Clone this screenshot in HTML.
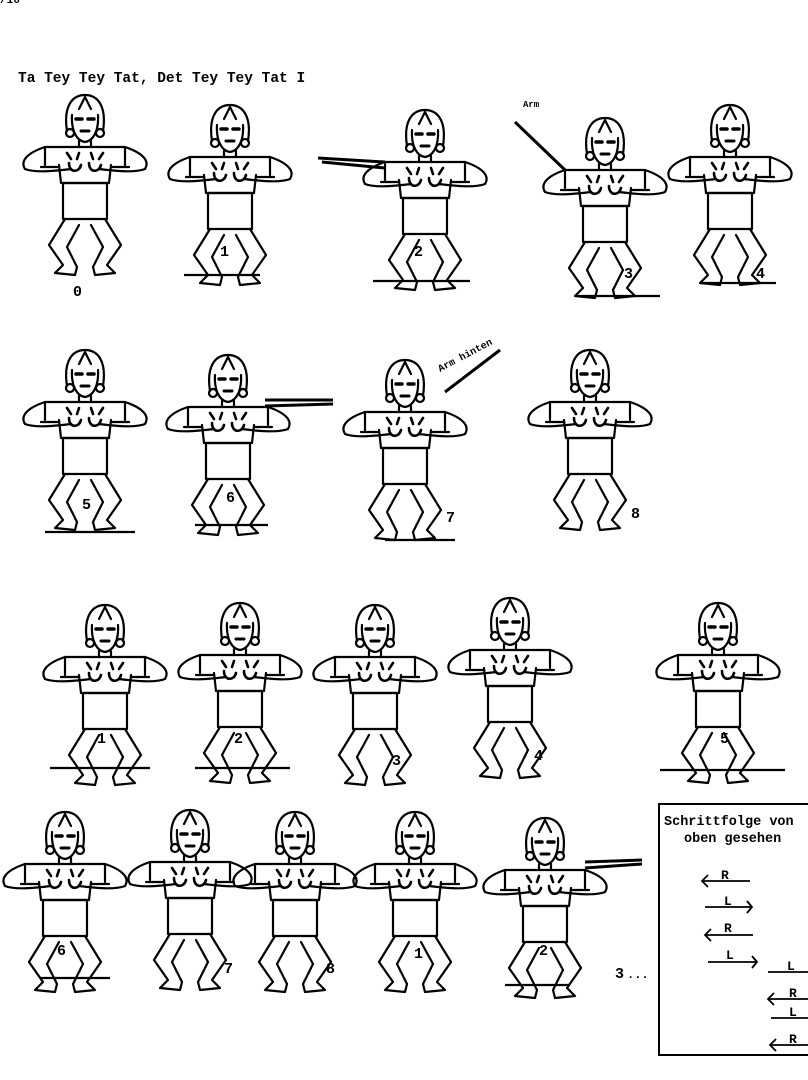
<!DOCTYPE html>
<html><head><meta charset="utf-8"><style>
html,body{margin:0;padding:0;background:#fff;width:808px;height:1080px;overflow:hidden}
svg{display:block}
text{font-family:"Liberation Mono",monospace;font-weight:bold;fill:#000}
</style></head><body>
<svg width="808" height="1080" viewBox="0 0 808 1080" xmlns="http://www.w3.org/2000/svg">
<defs>
<g id="fig" fill="none" stroke="#000" stroke-width="2.2" stroke-linejoin="round" stroke-linecap="round">
  <!-- hair -->
  <path d="M-18,36 C-22,10 -12,0 0,0 C12,0 22,10 18,36"/>
  <path d="M0,2 L-6,14 M0,2 L6,14"/>
  <!-- face -->
  <path d="M-13,20 C-14,36 -8,46 0,47 C8,46 14,36 13,20"/>
  <path d="M-9,24 h6 M3,24 h6" stroke-width="3.5"/>
  <path d="M-4,36 h8" stroke-width="3"/>
  <circle cx="-15" cy="38" r="4"/><circle cx="15" cy="38" r="4"/>
  <path d="M-6,46 v6 M6,46 v6"/>
  <!-- shirt -->
  <path d="M-40,70 L-40,52 L40,52 L40,70"/>
  <path d="M-26,70 L-24,88 L24,88 L26,70"/>
  <!-- arms -->
  <path d="M-40,52 C-58,58 -65,66 -60,74 C-50,78 -30,76 -14,74"/>
  <path d="M40,52 C58,58 65,66 60,74 C50,78 30,76 14,74"/>
  <path d="M-44,72 C-40,72 -30,72 -26,72 M44,72 C40,72 30,72 26,72"/>
  <!-- hands -->
  <path d="M-14,64 l-4,-6 M-8,64 l2,-6 M-16,68 c0,10 10,10 12,2 M8,64 l-2,-6 M14,64 l4,-6 M4,68 c0,10 10,10 12,2" stroke-width="2.6"/>
  <!-- skirt -->
  <rect x="-22" y="88" width="44" height="36"/>
  <!-- legs -->
  <path d="M-20,124 L-36,150 L-22,170 L-30,178 L-10,180 L-8,172 L-18,152 L-6,130"/>
  <path d="M20,124 L36,150 L22,170 L30,178 L10,180 L8,172 L18,152 L6,130"/>
</g>
</defs>

<text x="0" y="3" font-size="11">/16</text>
<text x="18" y="82" font-size="14.5">Ta Tey Tey Tat, Det Tey Tey Tat I</text>

<!-- Row 1 -->
<use href="#fig" x="85" y="95"/>
<use href="#fig" x="230" y="105"/>
<use href="#fig" x="425" y="110"/>
<use href="#fig" x="605" y="118"/>
<use href="#fig" x="730" y="105"/>
<g stroke="#000" stroke-width="2.2" fill="none">
<path d="M385,162 L318,158 M385,168 L322,162" stroke-width="3"/>
<path d="M565,170 L515,122" stroke-width="3"/>
<path d="M260,275 H184 M470,281 H373 M660,296 H578 M776,283 H700"/>
<path d="M135,532 H45 M268,525 H195 M455,540 H385"/>
<path d="M265,400 L333,400 M265,406 L333,404" stroke-width="3"/>
<path d="M445,392 L500,350" stroke-width="3"/>
<path d="M150,768 H50 M290,768 H195 M785,770 H660"/>
<path d="M585,862 L642,860 M585,868 L642,864" stroke-width="3"/>
<path d="M110,978 H40 M570,985 H505"/>
</g>
<text x="523" y="107" font-size="9" font-weight="normal" font-family="Liberation Sans,sans-serif">Arm</text>
<text x="440" y="372" font-size="10" font-weight="normal" font-family="Liberation Sans,sans-serif" transform="rotate(-28 440 372)">Arm hinten</text>

<text x="73" y="296" font-size="15">0</text>
<text x="220" y="256" font-size="15">1</text>
<text x="414" y="256" font-size="15">2</text>
<text x="624" y="278" font-size="15">3</text>
<text x="756" y="278" font-size="15">4</text>

<!-- Row 2 -->
<use href="#fig" x="85" y="350"/>
<use href="#fig" x="228" y="355"/>
<use href="#fig" x="405" y="360"/>
<use href="#fig" x="590" y="350"/>
<text x="82" y="509" font-size="15">5</text>
<text x="226" y="502" font-size="15">6</text>
<text x="446" y="522" font-size="15">7</text>
<text x="631" y="518" font-size="15">8</text>

<!-- Row 3 -->
<use href="#fig" x="105" y="605"/>
<use href="#fig" x="240" y="603"/>
<use href="#fig" x="375" y="605"/>
<use href="#fig" x="510" y="598"/>
<use href="#fig" x="718" y="603"/>
<text x="97" y="743" font-size="15">1</text>
<text x="234" y="743" font-size="15">2</text>
<text x="392" y="765" font-size="15">3</text>
<text x="534" y="760" font-size="15">4</text>
<text x="720" y="743" font-size="15">5</text>

<!-- Row 4 -->
<use href="#fig" x="65" y="812"/>
<use href="#fig" x="190" y="810"/>
<use href="#fig" x="295" y="812"/>
<use href="#fig" x="415" y="812"/>
<use href="#fig" x="545" y="818"/>
<text x="57" y="955" font-size="15">6</text>
<text x="224" y="973" font-size="15">7</text>
<text x="326" y="973" font-size="15">8</text>
<text x="414" y="958" font-size="15">1</text>
<text x="539" y="955" font-size="15">2</text>
<text x="615" y="978" font-size="15">3</text>
<text x="627" y="978" font-size="12">...</text>

<!-- Box -->
<rect x="659" y="804" width="160" height="251" fill="none" stroke="#000" stroke-width="2"/>
<text x="664" y="825" font-size="13.5">Schrittfolge von</text>
<text x="684" y="842" font-size="13.5">oben gesehen</text>
<g stroke="#000" stroke-width="1.8" fill="none">
<path d="M702,881 H750 M708,875 L702,881 L708,887"/>
<path d="M705,907 H752 M747,901 L752,907 L747,913"/>
<path d="M705,935 H753 M711,929 L705,935 L711,941"/>
<path d="M708,962 H757 M752,956 L757,962 L752,968"/>
<path d="M768,972 H808"/>
<path d="M768,999 H808 M774,993 L768,999 L774,1005"/>
<path d="M771,1018 H808"/>
<path d="M770,1045 H808 M776,1039 L770,1045 L776,1051"/>
</g>
<text x="721" y="879" font-size="13">R</text>
<text x="724" y="905" font-size="13">L</text>
<text x="724" y="932" font-size="13">R</text>
<text x="726" y="959" font-size="13">L</text>
<text x="787" y="970" font-size="13">L</text>
<text x="789" y="997" font-size="13">R</text>
<text x="789" y="1016" font-size="13">L</text>
<text x="789" y="1043" font-size="13">R</text>
</svg>
</body></html>
